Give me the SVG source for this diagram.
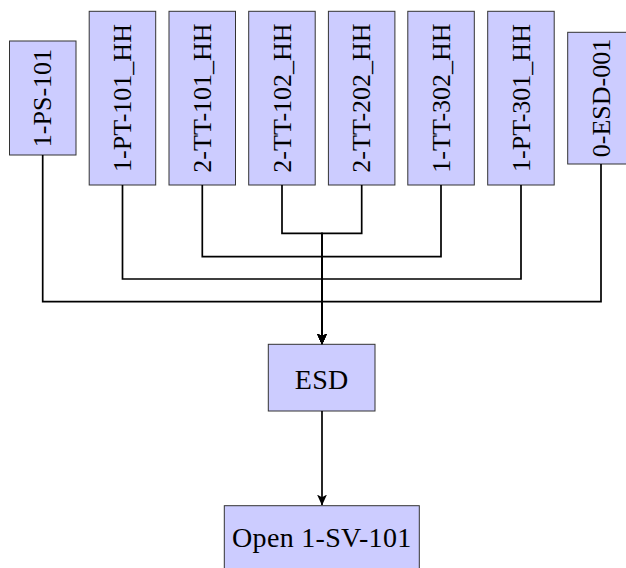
<svg xmlns="http://www.w3.org/2000/svg" width="626" height="568" viewBox="0 0 626 568">
  <defs>
    <style>
      .box { fill: #ccccff; stroke: #333333; stroke-width: 1; }
      .lbl { font-family: "Liberation Serif", "DejaVu Serif", serif; font-size: 26px; fill: #000000; text-anchor: middle; }
      .wide { font-size: 28px; letter-spacing: 0.3px; }
      .wire { fill: none; stroke: #000000; stroke-width: 1.7; }
    </style>
    <marker id="arrow" viewBox="0 0 10 10" refX="9.5" refY="5" markerUnits="userSpaceOnUse" markerWidth="11" markerHeight="12" orient="auto">
      <path d="M0,0.5 L10,5 L0,9.5 L2.5,5 Z" fill="#000000"/>
    </marker>
  </defs>

  <rect width="626" height="568" fill="#ffffff"/>

  <!-- sensor trip nodes (vertical labels) -->
  <g id="n-1-PS-101">
    <rect class="box" x="9.5" y="41" width="66.5" height="114"/>
    <text class="lbl" transform="translate(42.7,98) rotate(-90)" y="8.6">1-PS-101</text>
  </g>
  <g id="n-1-PT-101_HH">
    <rect class="box" x="89.2" y="11.3" width="66.5" height="173.7"/>
    <text class="lbl" transform="translate(122.5,98) rotate(-90)" y="8.6">1-PT-101_HH</text>
  </g>
  <g id="n-2-TT-101_HH">
    <rect class="box" x="169" y="11.3" width="66.5" height="173.7"/>
    <text class="lbl" transform="translate(202.3,98) rotate(-90)" y="8.6">2-TT-101_HH</text>
  </g>
  <g id="n-2-TT-102_HH">
    <rect class="box" x="248.7" y="11.3" width="66.5" height="173.7"/>
    <text class="lbl" transform="translate(282,98) rotate(-90)" y="8.6">2-TT-102_HH</text>
  </g>
  <g id="n-2-TT-202_HH">
    <rect class="box" x="328.4" y="11.3" width="66.5" height="173.7"/>
    <text class="lbl" transform="translate(361.7,98) rotate(-90)" y="8.6">2-TT-202_HH</text>
  </g>
  <g id="n-1-TT-302_HH">
    <rect class="box" x="407.8" y="11.3" width="66.5" height="173.7"/>
    <text class="lbl" transform="translate(441,98) rotate(-90)" y="8.6">1-TT-302_HH</text>
  </g>
  <g id="n-1-PT-301_HH">
    <rect class="box" x="487.7" y="11.3" width="66.5" height="173.7"/>
    <text class="lbl" transform="translate(521,98) rotate(-90)" y="8.6">1-PT-301_HH</text>
  </g>
  <g id="n-0-ESD-001">
    <rect class="box" x="567.7" y="32.3" width="66.5" height="131.7"/>
    <text class="lbl" transform="translate(601,98) rotate(-90)" y="8.6">0-ESD-001</text>
  </g>

  <!-- logic and action nodes -->
  <g id="n-ESD">
    <rect class="box" x="268.3" y="344.3" width="106.7" height="66.7"/>
    <text class="lbl wide" x="321.7" y="388.5">ESD</text>
  </g>
  <g id="n-open-1-SV-101">
    <rect class="box" x="224.3" y="505.7" width="195" height="66.7"/>
    <text class="lbl wide" x="321.8" y="546.5">Open 1-SV-101</text>
  </g>

  <!-- connectors: each trip routed into the ESD node -->
  <g id="connectors">
    <path class="wire" marker-end="url(#arrow)" d="M282,185 V233.3 H322 V344"/>
    <path class="wire" marker-end="url(#arrow)" d="M361.7,185 V233.3 H322 V344"/>
    <path class="wire" marker-end="url(#arrow)" d="M202.3,185 V256.7 H322 V344"/>
    <path class="wire" marker-end="url(#arrow)" d="M441,185 V256.7 H322 V344"/>
    <path class="wire" marker-end="url(#arrow)" d="M122.5,185 V279 H322 V344"/>
    <path class="wire" marker-end="url(#arrow)" d="M521,185 V279 H322 V344"/>
    <path class="wire" marker-end="url(#arrow)" d="M42.7,155 V301.7 H322 V344"/>
    <path class="wire" marker-end="url(#arrow)" d="M601,164 V301.7 H322 V344"/>
    <path class="wire" marker-end="url(#arrow)" d="M322,411 V505"/>
  </g>
</svg>
